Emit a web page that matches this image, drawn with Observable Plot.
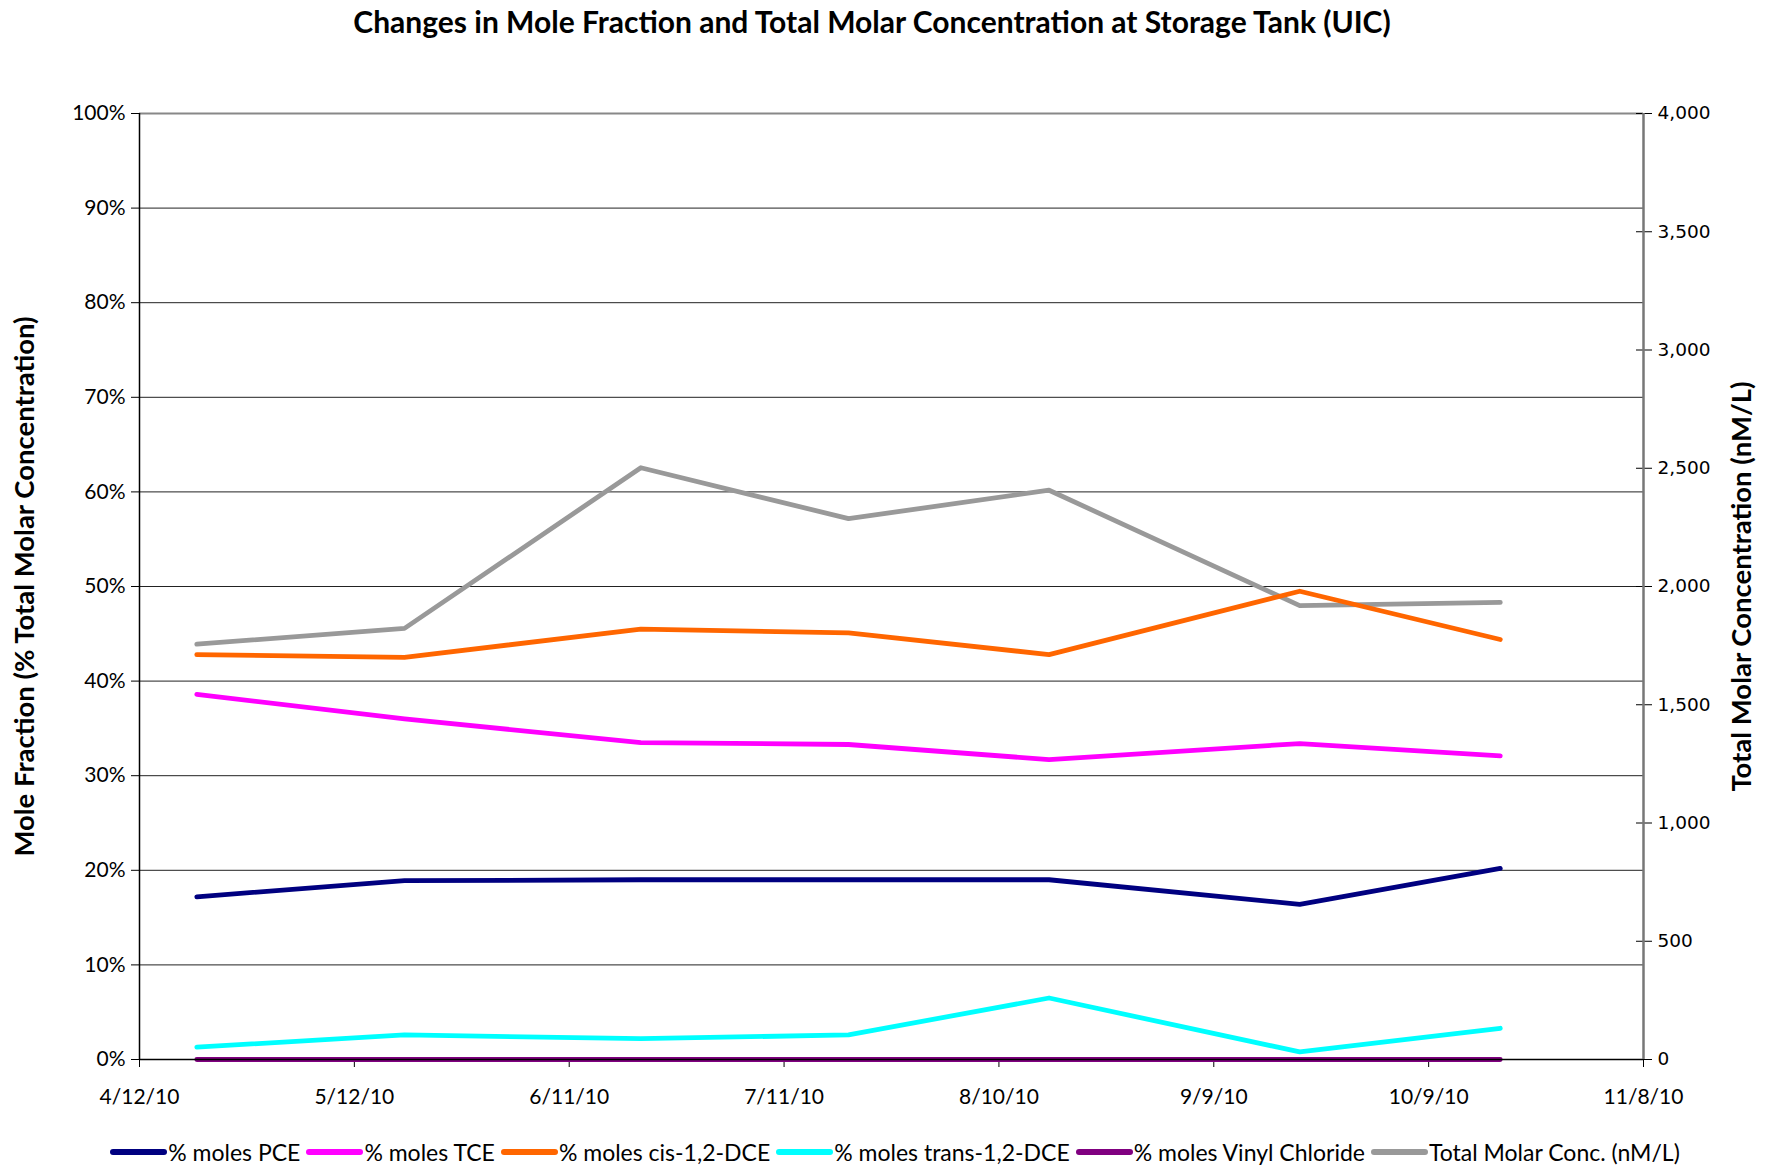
<!DOCTYPE html>
<html>
<head>
<meta charset="utf-8">
<script src="https://cdn.jsdelivr.net/npm/d3@7"></script>
<script src="https://cdn.jsdelivr.net/npm/@observablehq/plot@0.6"></script>
<style>
  html, body { margin: 0; padding: 0; background: #fff; }
  body { width: 1774px; height: 1169px; overflow: hidden; font-family: Lato, "Open Sans", sans-serif; }
  #title { height: 42px; line-height: 42px; text-align: center; font-weight: bold; font-size: 30px; color: #000; padding-right: 30px; }
  #legend { display: flex; justify-content: center; align-items: center; height: 44px; padding-left: 22px; font-size: 23px; color: #000; }
  .item { display: flex; align-items: center; margin-right: 6px; }
  .sw { width: 57px; height: 6px; border-radius: 3px; margin-right: 1px; }
</style>
</head>
<body>
<div id="title">Changes in Mole Fraction and Total Molar Concentration at Storage Tank (UIC)</div>
<div id="chart"></div>
<div id="legend"></div>
<script>
// ---- data ----
const dates = ["2010-04-20", "2010-05-19", "2010-06-21", "2010-07-20", "2010-08-17", "2010-09-21", "2010-10-19"];
const pce = [17.2, 18.9, 19.0, 19.0, 19.0, 16.4, 20.2];
const tce = [38.6, 36.0, 33.5, 33.3, 31.7, 33.4, 32.1];
const cisDCE = [42.8, 42.5, 45.5, 45.1, 42.8, 49.5, 44.4];
const transDCE = [1.3, 2.6, 2.2, 2.6, 6.5, 0.8, 3.3];
const vinylChloride = [0, 0, 0, 0, 0, 0, 0];
const totalMolar = [1756, 1823, 2502, 2287, 2407, 1919, 1933];

const seriesNames = ["% moles PCE", "% moles TCE", "% moles cis-1,2-DCE", "% moles trans-1,2-DCE", "% moles Vinyl Chloride", "Total Molar Conc. (nM/L)"];
const seriesColors = ["#000080", "#FF00FF", "#FF6600", "#00FFFF", "#800080", "#999999"];
const xTickLabels = ["4/12/10", "5/12/10", "6/11/10", "7/11/10", "8/10/10", "9/9/10", "10/9/10", "11/8/10"];
const leftTicks = [0, 10, 20, 30, 40, 50, 60, 70, 80, 90, 100];
const rightTicks = [0, 500, 1000, 1500, 2000, 2500, 3000, 3500, 4000];
const rightMax = 4000;

// ---- build ----
const parse = d3.utcParse("%Y-%m-%d");
const parseTick = d3.utcParse("%m/%d/%y");
const xTicks = xTickLabels.map(parseTick);
const pctSeries = [pce, tce, cisDCE, transDCE, vinylChloride];
const rows = [];
pctSeries.forEach((vals, i) => vals.forEach((v, j) => rows.push({series: seriesNames[i], date: parse(dates[j]), y: v})));
const totalRows = totalMolar.map((v, j) => ({series: seriesNames[5], date: parse(dates[j]), y: v / rightMax * 100}));
const fmtComma = d3.format(",");

const W = 1774, H = 1088;
const chart = Plot.plot({
  width: W, height: H,
  marginLeft: 139, marginRight: 131, marginTop: 71, marginBottom: 71,
  style: {fontFamily: "Lato, sans-serif", background: "#fff"},
  x: {type: "utc", domain: [xTicks[0], xTicks[xTicks.length - 1]]},
  y: {domain: [0, 100]},
  color: {domain: seriesNames, range: seriesColors},
  marks: [
    Plot.gridY(leftTicks.slice(1), {stroke: "#222", strokeOpacity: 1, strokeWidth: 1}),
    Plot.ruleY([100], {stroke: "#888", strokeWidth: 2}),
    Plot.axisX(xTicks, {tickFormat: d => xTickLabels[xTicks.findIndex(t => +t === +d)], tickSize: 8, tickPadding: 22, fontSize: 21, label: null, stroke: "#000"}),
    Plot.axisY(leftTicks, {anchor: "left", tickSize: 8, tickPadding: 6, tickFormat: d => d + "%", fontSize: 21, label: null}),
    Plot.axisY(rightTicks.map(v => v / rightMax * 100), {anchor: "right", tickSize: 16, dx: -8, text: null, label: null}),
    Plot.axisY(rightTicks.map(v => v / rightMax * 100), {anchor: "right", tickSize: 0, tickPadding: 14, tickFormat: d => fmtComma(Math.round(d * rightMax / 100)), fontSize: 18.5, fontFamily: "DejaVu Sans", label: null}),
    Plot.line(totalRows, {x: "date", y: "y", stroke: "series", strokeWidth: 4.8}),
    Plot.line(rows, {x: "date", y: "y", stroke: "series", z: "series", strokeWidth: 4.8}),
    Plot.ruleY([0], {stroke: "#000", strokeWidth: 1.5}),
    Plot.ruleX([xTicks[0]], {stroke: "#000", strokeWidth: 1.5}),
    Plot.ruleX([xTicks[xTicks.length - 1]], {stroke: "#777", strokeWidth: 2.5}),
    Plot.text(["Mole Fraction (% Total Molar Concentration)"], {frameAnchor: "left", textAnchor: "middle", rotate: -90, dx: -114, fontWeight: "bold", fontSize: 27.5, fill: "#000"}),
    Plot.text(["Total Molar Concentration (nM/L)"], {frameAnchor: "right", textAnchor: "middle", rotate: -90, dx: 99, fontWeight: "bold", fontSize: 27.5, fill: "#000"})
  ]
});
document.getElementById("chart").appendChild(chart);

const legend = document.getElementById("legend");
seriesNames.forEach((name, i) => {
  const item = document.createElement("div");
  item.className = "item";
  const sw = document.createElement("div");
  sw.className = "sw";
  sw.style.background = seriesColors[i];
  const lab = document.createElement("span");
  lab.textContent = name;
  item.appendChild(sw); item.appendChild(lab);
  legend.appendChild(item);
});
</script>
</body>
</html>
